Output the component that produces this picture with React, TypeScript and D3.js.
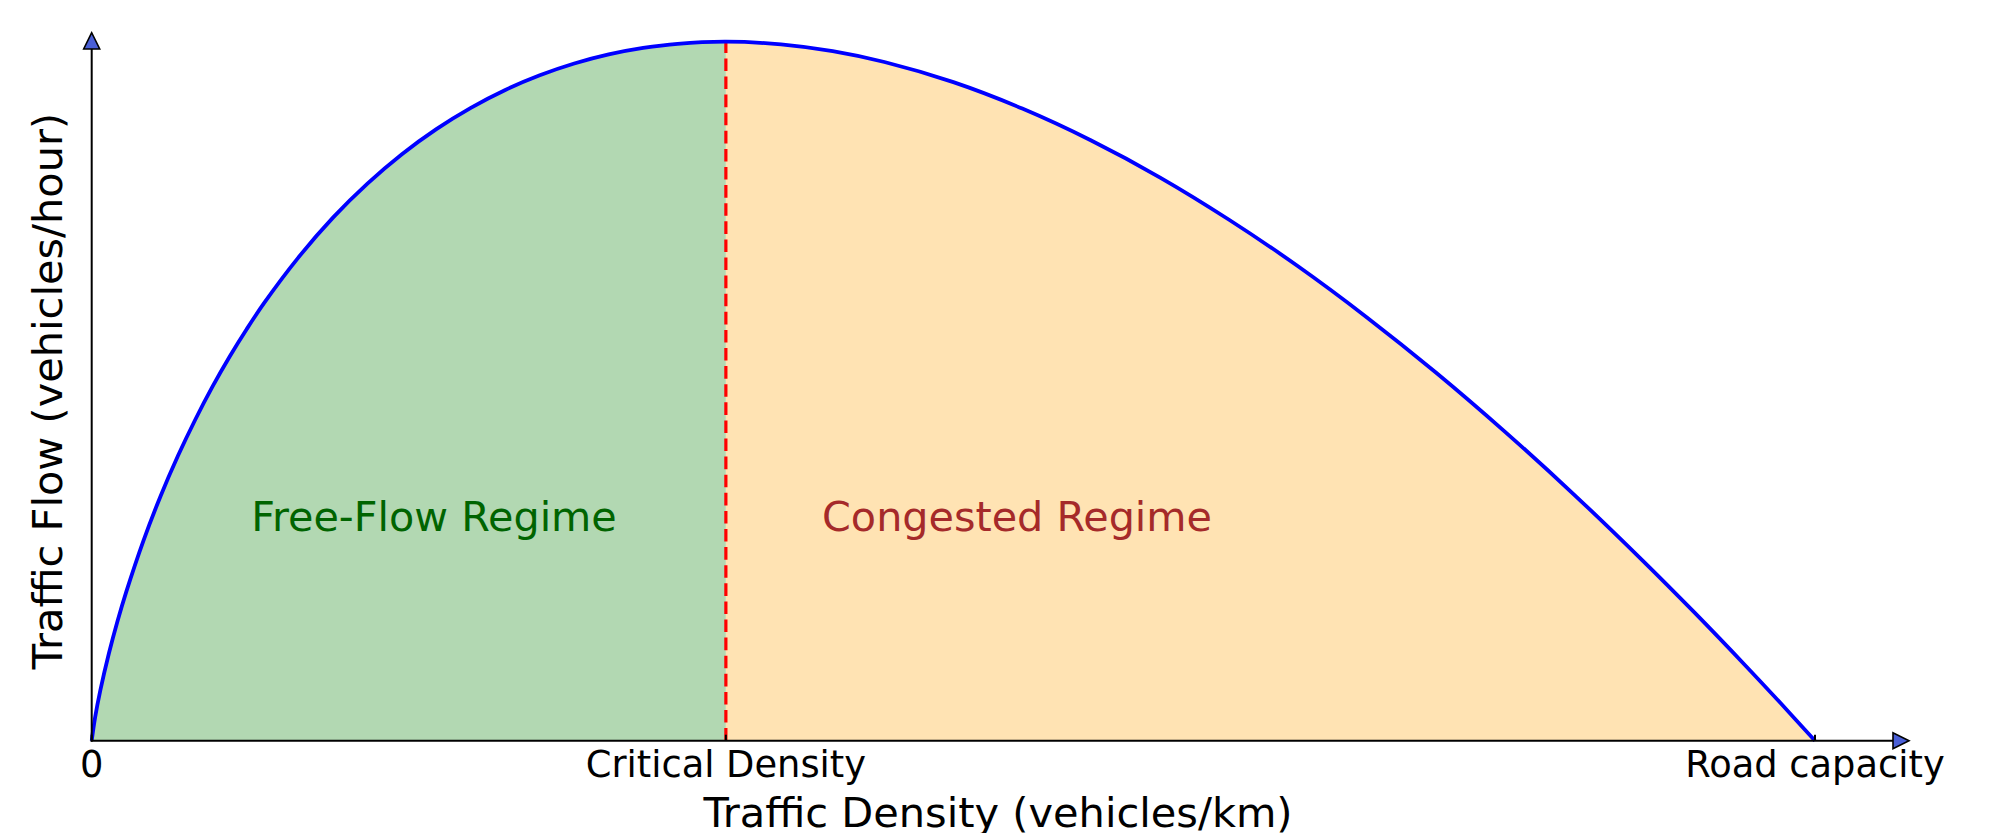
import React from "react";
import * as d3 from "d3";

const densities = [0, 0.002, 0.005, 0.01, 0.015, 0.02, 0.03, 0.04, 0.05, 0.06, 0.07, 0.08, 0.09, 0.1, 0.12, 0.14, 0.16, 0.18, 0.2, 0.22, 0.24, 0.26, 0.28, 0.3, 0.32, 0.34, 0.368, 0.4, 0.43, 0.46, 0.5, 0.54, 0.58, 0.62, 0.66, 0.7, 0.74, 0.78, 0.82, 0.86, 0.9, 0.93, 0.96, 0.98, 1.0];
const flows = [0, 0.0124, 0.0265, 0.046, 0.063, 0.0782, 0.1052, 0.1288, 0.1498, 0.1688, 0.1862, 0.2021, 0.2167, 0.2303, 0.2544, 0.2753, 0.2932, 0.3087, 0.3219, 0.3331, 0.3425, 0.3502, 0.3564, 0.3612, 0.3646, 0.3668, 0.3679, 0.3665, 0.3629, 0.3572, 0.3466, 0.3327, 0.3159, 0.2964, 0.2742, 0.2497, 0.2228, 0.1938, 0.1627, 0.1297, 0.0948, 0.0675, 0.0392, 0.0198, 0];
const criticalDensity = 0.368;
const peakFlow = 0.3679;
const tickValues = [0, 0.368, 1.0];
const tickLabels = ["0", "Critical Density", "Road capacity"];

export default function App() {
  const W = 1999, H = 833;
  const x0 = 91.7, x1 = 1815, y0 = 740.7, yTop = 41.7;
  const x = d3.scaleLinear().domain([0, 1]).range([x0, x1]);
  const y = d3.scaleLinear().domain([0, peakFlow]).range([y0, yTop]);
  const pts = densities.map((d, i) => ({ k: d, q: flows[i] }));
  const curve = d3.curveCatmullRom.alpha(0.5);
  const line = d3.line<any>().x(d => x(d.k)).y(d => y(d.q)).curve(curve);
  const area = d3.area<any>().x(d => x(d.k)).y0(y(0)).y1(d => y(d.q)).curve(curve);
  const left = pts.filter(p => p.k <= criticalDensity);
  const right = pts.filter(p => p.k >= criticalDensity);
  const font = "DejaVu Sans, sans-serif";
  const arrowFill = "#4a5fd6";
  const yArrowTip = 32.7, yArrowBase = 49;
  const xArrowBase = 1893, xArrowTip = 1909;
  return (
    <svg width={W} height={H} style={{ position: "absolute", left: 0, top: 0, background: "#fff" }}>
      <path d={area(left) || ""} fill="#b2d8b2" />
      <path d={area(right) || ""} fill="#ffe3b3" />
      <line x1={x(criticalDensity)} x2={x(criticalDensity)} y1={y(0)} y2={y(peakFlow)} stroke="red" strokeWidth={3.2} strokeDasharray="12.6 5.5" />
      <path d={line(pts) || ""} fill="none" stroke="blue" strokeWidth={3.8} />
      <line x1={x0} x2={x0} y1={y0 + 1} y2={yArrowBase} stroke="#000" strokeWidth={2} />
      <line x1={x0 - 1} x2={xArrowBase} y1={y0} y2={y0} stroke="#000" strokeWidth={2} />
      <polygon points={`${x0},${yArrowTip} ${x0 - 8},${yArrowBase} ${x0 + 8},${yArrowBase}`} fill={arrowFill} stroke="#000" strokeWidth={1.6} />
      <polygon points={`${xArrowTip},${y0} ${xArrowBase},${y0 - 8} ${xArrowBase},${y0 + 8}`} fill={arrowFill} stroke="#000" strokeWidth={1.6} />
      {tickValues.map((t, i) => (
        <g key={i}>
          <line x1={x(t)} x2={x(t)} y1={y0} y2={y0 - 6} stroke="#000" strokeWidth={2} />
          <text x={x(t)} y={777} textAnchor="middle" fontFamily={font} fontSize={36.8} fill="#000">{tickLabels[i]}</text>
        </g>
      ))}
      <text x={998} y={827} textAnchor="middle" fontFamily={font} fontSize={41.5} fill="#000">Traffic Density (vehicles/km)</text>
      <text transform={`translate(62,391) rotate(-90)`} textAnchor="middle" fontFamily={font} fontSize={41.5} fill="#000">Traffic Flow (vehicles/hour)</text>
      <text x={434} y={531} textAnchor="middle" fontFamily={font} fontSize={41.3} fill="darkgreen">Free-Flow Regime</text>
      <text x={1017} y={531} textAnchor="middle" fontFamily={font} fontSize={41.3} fill="brown">Congested Regime</text>
    </svg>
  );
}
